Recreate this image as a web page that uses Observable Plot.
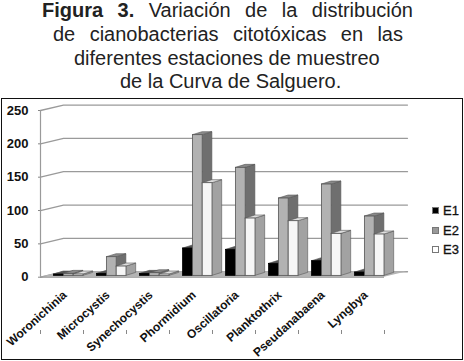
<!DOCTYPE html>
<html><head><meta charset="utf-8">
<script src="https://cdn.jsdelivr.net/npm/d3@7"></script>
<script src="https://cdn.jsdelivr.net/npm/@observablehq/plot@0.6"></script>
<style>
html,body{margin:0;padding:0;background:#fff;overflow:hidden}
body{width:464px;height:361px;position:relative;font-family:"Liberation Sans",Arial,sans-serif}
#title{position:absolute;left:0;top:0;width:464px;color:#222;font-size:20px;line-height:20px}
#title div{position:absolute;white-space:nowrap}
#title .j{text-align:justify;text-align-last:justify;white-space:normal}
#chart{position:absolute;left:0;top:98px;width:464px;height:262px}
#frame{position:absolute;left:1px;top:98px;width:460px;height:260px;border:1.5px solid #111}
#legend{position:absolute;left:432px;top:201px;font-size:13px;color:#111;-webkit-text-stroke:.3px #111}
#legend div{display:flex;align-items:center;height:19.6px}
#legend i{display:block;width:5px;height:5px;border:1px solid #777;margin-right:4px;-webkit-text-stroke:0}
svg{display:block}
</style></head><body>
<div id="title">
<div class="j" style="left:42px;top:0;width:371px"><b>Figura 3.</b> Variación de la distribución</div>
<div class="j" style="left:53px;top:24px;width:350px">de cianobacterias citotóxicas en las</div>
<div style="left:74px;top:48px;">diferentes estaciones de muestreo</div>
<div style="left:120px;top:71px;">de la Curva de Salguero.</div>
</div>
<div id="frame"></div>
<div id="chart"></div>
<div id="legend"></div>
<script>
const categories = ["Woronichinia","Microcystis","Synechocystis","Phormidium","Oscillatoria","Planktothrix","Pseudanabaena","Lyngbya"];
const seriesNames = ["E1","E2","E3"];
const E1 = [2,3,3,41,39,18,22,5];
const E2 = [3,28,4,211,162,116,137,89];
const E3 = [2,14,2,139,86,82,63,62];
const yTicks = [0,50,100,150,200,250];
const faceFront = ["#000000","#b2b2b2","#f6f6f6"];
const faceSide  = ["#1a1a1a","#6f6f6f","#a2a2a2"];
const faceTop   = ["#555555","#8a8a8a","#dedede"];
const legendFill = ["#000000","#999999","#ffffff"];

// depth of the 3-D box and of the bars, in scale units
const wallDx = 0.535, wallDy = 8.2;
const barDx = 0.225, barDy = 4.5, barBase = 2, barW = 0.228, barStart = 0.316;

const values = [E1,E2,E3];
const bars = categories.flatMap((c,i)=>values.map((vals,s)=>{
  const x0 = i+barStart+s*barW;
  return {c,s,x0,x1:x0+barW,v:vals[i]+barBase};
}));
const sideFaces = bars.flatMap((b,k)=>[
  {k,x:b.x1,y1:barBase,y2:b.v,s:b.s},
  {k,x:b.x1+barDx,y1:barBase+barDy,y2:b.v+barDy,s:b.s}]);
const topFaces = bars.flatMap((b,k)=>[
  {k,y:b.v,x1:b.x0,x2:b.x1,s:b.s},
  {k,y:b.v+barDy,x1:b.x0+barDx,x2:b.x1+barDx,s:b.s}]);
const floor = [{y:0,x1:0,x2:8},{y:wallDy,x1:wallDx,x2:8+wallDx}];
const grid = yTicks.flatMap(t=>[
  {t,x:0,y:t},{t,x:wallDx,y:t+wallDy},{t,x:8+wallDx,y:t+wallDy}]);

// painter's order: bars one after another, left to right
const barMarks = bars.flatMap((b,k)=>[
  Plot.areaY(sideFaces.filter(d=>d.k===k),{x:"x",y1:"y1",y2:"y2",fill:faceSide[b.s],stroke:"#555",strokeWidth:.6}),
  Plot.areaX(topFaces.filter(d=>d.k===k),{y:"y",x1:"x1",x2:"x2",fill:faceTop[b.s],stroke:"#555",strokeWidth:.6}),
  Plot.rect([b],{x1:"x0",x2:"x1",y1:barBase,y2:"v",fill:faceFront[b.s],stroke:b.s?"#555":"#000",strokeWidth:.8})
]);

const plot = Plot.plot({
  width:464,height:262,
  style:{background:"transparent",fontFamily:"Liberation Sans, Arial, sans-serif"},
  x:{domain:[0,8],range:[40,384]},
  y:{domain:[0,250],range:[178.7,12]},
  marks:[
    Plot.line(grid,{x:"x",y:"y",z:"t",stroke:"#9a9a9a",strokeWidth:1.3}),
    Plot.areaX(floor,{y:"y",x1:"x1",x2:"x2",fill:"#b4b4b4"}),
    Plot.ruleX([0],{y1:0,y2:250,stroke:"#9a9a9a",strokeWidth:1.2}),
    Plot.ruleY([0],{x1:0,x2:8,stroke:"#888",strokeWidth:1}),
    ...barMarks,
    Plot.axisY({ticks:yTicks,tickSize:2,tickPadding:10,label:null,stroke:"#888",fontSize:13,fontWeight:"bold",fill:"#111"}),
    Plot.axisX({ticks:d3.range(0,9),tickSize:4,tickFormat:()=>"",label:null,stroke:"#888"}),
    Plot.text(categories,{x:(d,i)=>i+0.5,y:0,text:d=>d,rotate:-42,textAnchor:"end",dy:16,dx:3,fontSize:12,fontWeight:"bold",fill:"#111"})
  ]
});
document.getElementById("chart").append(plot);

const lg = document.getElementById("legend");
seriesNames.forEach((n,i)=>{
  const r=document.createElement("div");
  const sw=document.createElement("i");sw.style.background=legendFill[i];
  r.append(sw,n);lg.append(r);
});
</script></body></html>
